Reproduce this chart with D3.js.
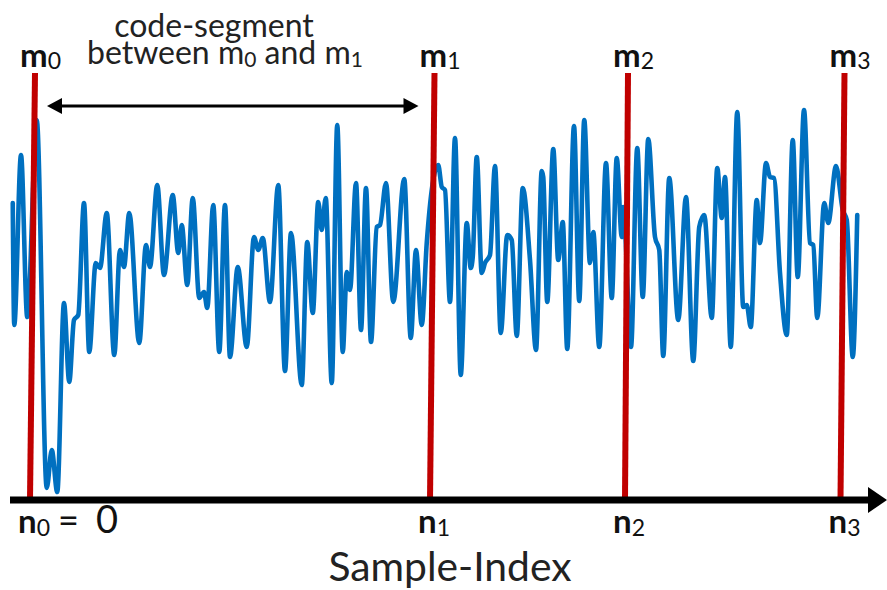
<!DOCTYPE html>
<html><head><meta charset="utf-8">
<script src="https://cdn.jsdelivr.net/npm/d3@7"></script>
<style>body{margin:0;background:#fff}svg{display:block}</style>
</head><body>
<svg id="chart" width="887" height="590"></svg>
<script>
// ---- data ----
const sampleIndex = [-6.9,-6.3,-3.6,-1.1,2.7,6.7,8.7,10.9,13.6,15.7,
 17.6,19.3,21.6,23.7,26.3,28,30.7,33.7,36,37.6,
 39.7,43.7,46.4,48,50.9,53.6,57.1,59.3,60.7,62.9,
 65.1,67.7,69.6,70.9,73.3,75.7,78,80,83.1,86.7,
 89.6,91.3,93.1,96,99.3,102,104.4,108.7,110.9,113.1,
 115.3,116.7,118.3,120.7,122.9,125.1,126.7,128,130.4,132.4,
 134.4,136.4,138.7,140,142.4,145.3,149.7,152.3,154.4,156.7,
 158.7,163.3,164.7,166,168,170,172.3,174.7,176.3,177.1,
 178.7,180.7,182,184,186,188.3,190.9,192.7,194.7,197.1,
 200,202.4,204.7,205.3,206.9,209.3,211.3,213.1,214.9,217.6,
 219.7,221.7,224,225.3,227.7,230.4,232.7,234.7,236.7,237.3,
 240.4,242.9,245.1,247.3,250,251.7,253.3,255.7,259.3,262.4,
 265.3,267.7,269.7,272.7,274.9,276.7,278,280.3,282.9,285.3,
 286.7,288.3,290.7,292,294.4,296,297.6,300,302.7,305.1,
 307.1,309.6,312,313.3,314.9,317.7,319.3,322.4,325.1,326.7,
 329.1,330.9];
const amplitude = [0.97,-0.25,1.45,-0.17,1.80,-1.88,-1.50,-1.92,-0.03,-0.82,
 -0.20,-0.15,0.97,-0.52,0.37,0.32,0.87,-0.55,0.50,0.33,
 0.87,-0.43,0.55,0.33,1.15,0.25,1.05,0.47,0.75,0.15,
 1.02,0.02,0.08,-0.08,0.95,-0.52,0.95,-0.57,0.33,-0.47,
 0.63,0.50,0.62,-0.02,1.15,-0.71,0.67,-0.85,0.58,-0.13,
 0.98,0.70,1.02,-0.83,1.75,-0.52,0.28,0.10,1.17,-0.30,
 1.12,-0.42,0.73,0.75,1.17,-0.02,1.21,-0.38,0.50,-0.25,
 0.57,1.35,1.13,1.10,-0.02,1.62,-0.75,0.77,0.32,0.43,
 1.43,0.27,0.37,0.45,1.34,-0.33,0.65,0.60,-0.36,1.12,
 0.40,-0.50,1.29,1.23,-0.02,1.51,0.40,0.78,-0.49,1.74,
 -0.01,1.80,0.37,0.68,-0.47,1.37,0.02,1.42,0.63,0.93,
 -0.47,1.52,0.03,1.61,0.63,0.50,-0.56,1.22,-0.20,1.03,
 -0.61,0.73,0.85,-0.18,1.32,0.82,1.23,-0.47,1.88,-0.07,
 -0.05,-0.27,1.00,0.57,1.37,1.23,1.22,0.27,-0.35,1.60,
 0.23,1.90,0.57,0.55,-0.18,0.97,0.77,1.34,0.90,0.80,
 -0.57,0.85];
// code-segment boundaries: m_k (top) and n_k (on the sample axis)
const markerTop = [2, 161.8, 239.2, 325.8];
const markerBottom = [0, 160, 238, 324.2];
const markerSubs = ["0", "1", "2", "3"];
const xAxisTitle = "Sample-Index";
const noteLine1 = "code-segment";
const noteLine2 = ["between m", "0", " and m", "1"];

// ---- scales ----
const x = d3.scaleLinear().domain([0, 340]).range([30, 880]);
const y = d3.scaleLinear().domain([-2, 2]).range([500, 100]);

const svg = d3.select("#chart");
const FONT = "Lato, 'Open Sans', sans-serif";
const RED = "#C00000", BLUE = "#0070C0", INK = "#111";

const pts = d3.zip(sampleIndex, amplitude);

// signal
svg.append("path")
  .datum(pts)
  .attr("fill", "none")
  .attr("stroke", BLUE)
  .attr("stroke-width", 4.6)
  .attr("stroke-linejoin", "round")
  .attr("stroke-linecap", "round")
  .attr("d", d3.line().x(d => x(d[0])).y(d => y(d[1])).curve(d3.curveMonotoneX));

// red markers
const axisY = y(-2);
svg.append("g").selectAll("line")
  .data(d3.zip(markerTop, markerBottom))
  .join("line")
  .attr("x1", d => x(d[0])).attr("y1", 73)
  .attr("x2", d => x(d[1])).attr("y2", axisY)
  .attr("stroke", RED).attr("stroke-width", 6);

// sample axis with arrow
svg.append("line")
  .attr("x1", 10).attr("x2", 872).attr("y1", axisY).attr("y2", axisY)
  .attr("stroke", "#000").attr("stroke-width", 7);
svg.append("path")
  .attr("d", `M868,${axisY-13}L887,${axisY}L868,${axisY+13}Z`)
  .attr("fill", "#000");

// top labels m_k
const lab = svg.append("g").attr("font-family", FONT).attr("fill", INK);
markerTop.forEach((v, i) => {
  const t = lab.append("text").attr("x", x(v) - 15).attr("y", 67)
    .attr("font-size", 33).attr("font-weight", "bold");
  t.append("tspan").text("m");
  t.append("tspan").attr("font-size", 23).attr("font-weight", "normal").attr("dy", 2).text(markerSubs[i]);
});

// bottom labels n_k
markerBottom.forEach((v, i) => {
  const t = lab.append("text").attr("x", x(v) - 12).attr("y", 533)
    .attr("font-size", 33).attr("font-weight", "bold");
  t.append("tspan").text("n");
  t.append("tspan").attr("font-size", 23).attr("font-weight", "normal").attr("dy", 3).text(markerSubs[i]);
  if (i === 0) {
    t.append("tspan").attr("font-size", 36).attr("font-weight", "normal").attr("dy", -3).attr("x", x(v) + 28).text("=");
    t.append("tspan").attr("font-size", 38).attr("font-weight", "normal").attr("x", x(v) + 66).text(String(v));
  }
});

// annotation (one two-line text)
const note = svg.append("text").attr("font-family", FONT).attr("fill", "#222")
  .attr("font-size", 32).attr("text-anchor", "middle");
note.append("tspan").attr("x", 214).attr("y", 37).text(noteLine1);
note.append("tspan").attr("x", 225).attr("y", 64).text(noteLine2[0]);
note.append("tspan").attr("font-size", 21).attr("dy", 3).text(noteLine2[1]);
note.append("tspan").attr("dy", -3).text(noteLine2[2]);
note.append("tspan").attr("font-size", 21).attr("dy", 3).text(noteLine2[3]);

// double arrow for the code segment
const ax1 = x(markerTop[0]) + 12, ax2 = x(markerTop[1]) - 16, ay = 106;
svg.append("line").attr("x1", ax1 + 10).attr("x2", ax2 - 10).attr("y1", ay).attr("y2", ay)
  .attr("stroke", "#000").attr("stroke-width", 3);
svg.append("path").attr("d", `M${ax1},${ay}L${ax1+15},${ay-8}L${ax1+15},${ay+8}Z`).attr("fill", "#000");
svg.append("path").attr("d", `M${ax2},${ay}L${ax2-15},${ay-8}L${ax2-15},${ay+8}Z`).attr("fill", "#000");

// axis title
svg.append("text").attr("x", 450).attr("y", 581).attr("text-anchor", "middle")
  .attr("font-family", FONT).attr("font-size", 40).attr("fill", "#222")
  .attr("textLength", 243).attr("lengthAdjust", "spacingAndGlyphs").text(xAxisTitle);
</script>
</body></html>
